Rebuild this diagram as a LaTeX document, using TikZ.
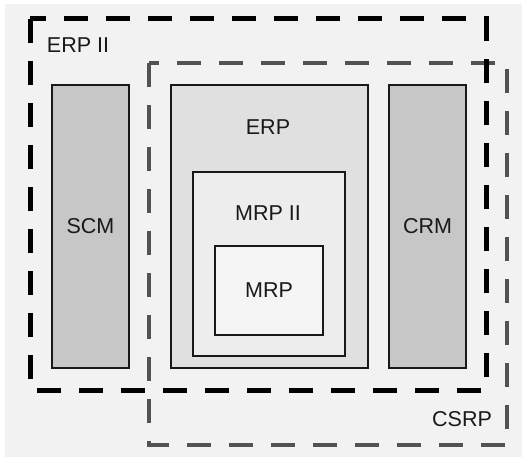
\documentclass[tikz,border=0pt]{standalone}
\usepackage{fontspec}
\setmainfont{Liberation Sans}
\begin{document}
\begin{tikzpicture}[x=1pt,y=-1pt,
  lbl/.style={font=\fontsize{21.5}{25}\selectfont, text=black!90, inner sep=0pt},
  box/.style={draw=black!90, line width=1.4pt, inner sep=0pt},
  erptwo/.style={draw=black, line width=5pt, dash pattern=on 24pt off 18pt},
  csrpline/.style={draw=black!68, line width=4pt, dash pattern=on 24pt off 18pt}]
\useasboundingbox (0,0) rectangle (525,460);
\fill[white] (0,0) rectangle (525,460);
\fill[black!5] (5,4) rectangle (522,457);
% outer boxes
\node[box, fill=black!22, minimum width=77pt, minimum height=283pt] (scm) at (90.5,226.5) {};
\node[box, fill=black!12, minimum width=197pt, minimum height=283pt] (erp) at (269.5,226.5) {};
\node[box, fill=black!22, minimum width=77pt, minimum height=283pt] (crm) at (427.5,226.5) {};
\node[box, fill=black!7, minimum width=152pt, minimum height=184pt] (mrptwo) at (269,264) {};
\node[box, fill=black!4, minimum width=108pt, minimum height=89pt] (mrp) at (269,290.5) {};
% labels
\node[lbl] (scmlbl) at (scm.center) {SCM};
\node[lbl] (crmlbl) at (crm.center) {CRM};
\node[lbl] (erplbl) at (268,127) {ERP};
\node[lbl] (mrptwolbl) at (268,213) {MRP II};
\node[lbl] (mrplbl) at (mrp.center) {MRP};
\node[lbl] (erptwolbl) at (78,45) {ERP II};
\node[lbl] (csrplbl) at (462,419) {CSRP};
% dashed frames
\draw[csrpline] (149,63) rectangle (507,445);
\draw[erptwo] (30,19) rectangle (486,390);
\end{tikzpicture}
\end{document}
